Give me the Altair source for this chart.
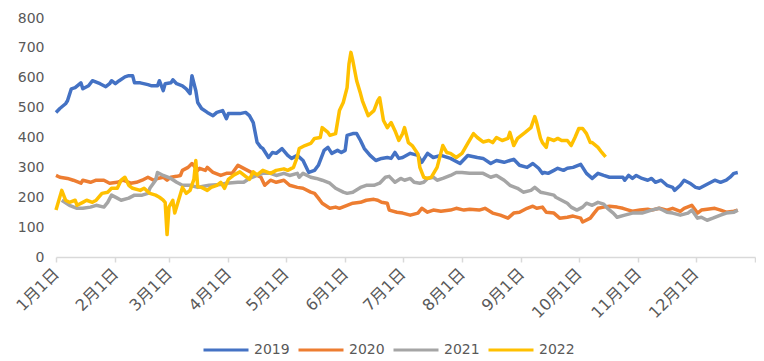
import altair as alt
import pandas as pd

# day-of-year offsets (0 = Jan 1) and values
days_2019 = [0,2,5,6,8,10,13,14,17,19,23,26,28,29,31,33,36,38,40,41,44,48,50,53,54,56,57,60,61,63,66,68,70,71,73,74,76,79,82,84,87,89,90,92,96,99,101,103,105,107,108,111,113,115,118,121,123,126,129,132,135,137,139,140,142,144,147,149,151,152,155,157,159,161,164,167,170,173,175,177,179,181,185,189,191,194,197,201,206,211,215,220,223,227,230,234,237,239,242,246,249,252,254,255,257,260,262,265,267,270,274,275,277,280,283,286,289,293,296,297,299,301,303,306,309,311,313,316,319,322,323,326,328,331,334,336,339,342,344,347,350,352,354,356]
vals_2019 = [484,497,513,523,563,567,583,563,573,590,580,570,580,590,580,590,603,607,607,583,583,577,573,573,590,557,580,583,593,580,573,563,547,607,557,517,497,484,473,484,490,463,480,480,480,484,473,450,384,367,363,333,350,347,363,340,330,340,323,283,290,307,340,357,367,347,357,350,357,407,413,413,390,363,340,323,330,333,330,350,330,333,347,340,317,347,333,340,330,313,340,333,330,313,323,317,323,327,307,300,313,297,280,283,280,290,297,290,297,300,310,300,280,263,280,273,267,267,267,257,273,263,273,263,257,263,250,257,240,233,223,240,257,247,233,230,240,250,257,250,257,267,280,283]

days_2020 = [0,2,6,9,13,14,18,21,25,28,32,35,39,42,45,48,51,53,56,58,60,63,65,66,69,71,74,75,78,79,82,86,89,92,95,97,100,103,107,109,112,115,119,122,126,129,133,135,137,139,143,146,148,152,155,159,162,166,168,170,173,174,178,181,185,189,191,194,197,201,206,209,213,216,221,224,228,232,236,239,242,246,249,251,254,256,260,263,267,270,274,275,279,281,283,286,289,293,296,299,301,305,309,311,315,319,322,326,328,332,335,337,340,344,347,350,354,356]
vals_2020 = [273,267,263,257,247,257,250,257,257,247,250,257,247,250,257,267,257,263,267,257,267,270,273,290,300,313,290,297,290,300,283,273,280,280,307,300,290,280,267,240,257,250,257,240,233,230,217,213,197,180,163,167,163,173,180,183,190,193,190,183,180,157,150,147,140,147,163,150,157,153,157,163,157,160,157,163,147,140,130,147,150,163,170,163,167,150,147,130,133,137,130,117,130,147,163,167,170,167,163,157,153,157,160,157,163,157,163,153,163,173,147,157,160,163,157,150,153,157]

days_2021 = [3,7,11,14,18,21,25,27,29,32,34,38,41,45,48,49,52,53,56,60,63,66,70,74,77,80,86,89,95,98,101,105,108,112,115,119,122,126,127,129,133,136,139,143,146,150,152,155,159,162,166,169,172,174,177,180,182,185,187,190,192,194,197,199,202,206,209,212,216,220,223,227,230,234,237,241,244,248,250,253,256,260,261,264,267,269,272,275,277,280,283,286,288,291,293,297,301,306,311,315,319,322,326,330,332,335,337,340,343,347,350,354,356]
vals_2021 = [190,173,163,163,167,173,167,183,207,197,190,197,207,207,213,230,257,283,273,263,250,240,240,233,237,240,243,247,250,250,263,273,280,280,273,280,273,280,267,280,267,263,257,247,230,217,213,217,233,240,240,247,267,270,250,263,257,263,250,247,250,263,267,257,263,273,283,283,280,280,280,267,273,257,240,230,217,223,233,217,213,207,200,190,180,167,157,167,180,173,183,177,163,147,133,140,147,147,157,163,150,147,140,147,157,130,133,123,130,140,147,150,157]

days_2022 = [0,3,5,7,10,11,14,16,19,21,24,27,29,32,34,36,38,40,44,46,49,52,54,56,57,58,59,61,62,64,66,68,70,72,73,74,76,79,81,84,86,88,90,93,96,99,101,103,105,108,112,115,119,121,124,126,127,130,133,135,138,139,142,143,146,148,150,152,153,154,155,157,159,160,163,166,168,169,171,173,175,177,179,181,182,184,186,189,190,192,194,196,199,202,204,206,209,212,215,218,220,223,226,228,230,233,236,237,239,241,243,245,248,250,251,253,254,256,257,260,262,264,267,269,271,273,275,277,279,280,283,285,287]
vals_2022 = [157,223,190,183,190,173,183,190,183,190,213,217,230,230,257,267,240,230,223,230,213,207,200,190,183,75,167,190,147,190,233,213,223,260,323,235,233,223,233,240,250,230,260,275,285,270,260,285,275,290,280,290,295,290,300,335,363,373,380,397,400,433,417,407,413,490,517,567,647,685,657,590,547,523,473,490,523,533,457,433,450,423,390,413,433,383,373,345,300,267,263,267,300,373,350,347,333,347,380,413,400,385,390,383,400,390,397,417,373,397,407,417,433,470,450,397,383,367,397,390,397,390,390,373,400,430,430,413,383,383,367,350,335]

years = ["2019", "2020", "2021", "2022"]
colors = ["#4472C4", "#ED7D31", "#A5A5A5", "#FFC000"]
tick_days = [0, 31, 59, 90, 120, 151, 181, 212, 243, 273, 304, 334, 365]
tick_labels = ["1月1日", "2月1日", "3月1日", "4月1日", "5月1日", "6月1日", "7月1日",
               "8月1日", "9月1日", "10月1日", "11月1日", "12月1日", ""]

rows = []
for yr, ds, vs in zip(years, [days_2019, days_2020, days_2021, days_2022],
                      [vals_2019, vals_2020, vals_2021, vals_2022]):
    for i, (d, v) in enumerate(zip(ds, vs)):
        rows.append({"year": yr, "day": d, "value": v, "idx": i})
df = pd.DataFrame(rows)

label_expr = ("[" + ",".join("'%s'" % t for t in tick_labels) + "][indexof(["
              + ",".join(str(t) for t in tick_days) + "], datum.value)]")

font = "DejaVu Sans, Noto Sans CJK SC"

chart = alt.Chart(df).mark_line(strokeWidth=3.5, strokeJoin="round").encode(
    x=alt.X("day:Q", scale=alt.Scale(domain=[0, 365], nice=False, zero=False),
            axis=alt.Axis(values=tick_days, labelExpr=label_expr, title=None,
                          labelAngle=-45, labelAlign="right", labelBaseline="middle",
                          labelPadding=9, grid=False, domainColor="#D9D9D9",
                          domainWidth=1.5, tickColor="#D9D9D9", tickSize=5, tickWidth=1.5,
                          labelColor="#595959", labelFontSize=16, labelFont=font,
                          labelOverlap=False, labelBound=False, labelFlush=False)),
    y=alt.Y("value:Q", scale=alt.Scale(domain=[0, 800], nice=False),
            axis=alt.Axis(values=list(range(0, 801, 100)), title=None, grid=False,
                          domain=False, ticks=False, labelPadding=12,
                          labelColor="#595959", labelFontSize=14, labelFont=font)),
    color=alt.Color("year:N", scale=alt.Scale(domain=years, range=colors),
                    legend=alt.Legend(title=None, orient="none", direction="horizontal",
                                      legendX=146, legendY=308, symbolType="stroke",
                                      symbolSize=2025, symbolStrokeWidth=3,
                                      labelFontSize=14, labelFont=font, labelColor="#595959",
                                      labelOffset=4, columnPadding=2, padding=0)),
    order="idx:Q",
).properties(
    width=699, height=239,
    padding={"left": 48, "top": 10, "right": 1, "bottom": 102},
    autosize=alt.AutoSizeParams(type="none"),
).configure_view(stroke=None)

chart.save("out.html", embed_options={"renderer": "svg", "actions": False})
